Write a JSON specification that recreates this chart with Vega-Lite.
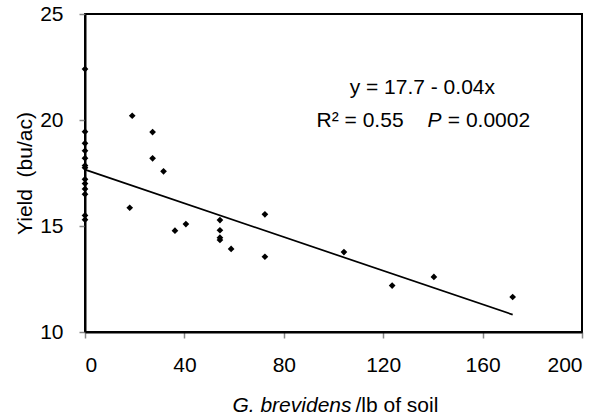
{
  "$schema": "https://vega.github.io/schema/vega-lite/v6.json",
  "width": 497,
  "height": 318,
  "autosize": {"type": "none"},
  "padding": {"left": 85, "top": 14, "right": 20, "bottom": 85},
  "background": "white",
  "config": {
    "font": "Liberation Sans",
    "view": {"stroke": "black", "strokeWidth": 2},
    "axis": {
      "grid": false,
      "domainColor": "black",
      "domainWidth": 2,
      "tickColor": "#888888",
      "tickSize": 6,
      "tickWidth": 1.5,
      "labelFont": "Liberation Sans",
      "labelFontSize": 21,
      "labelColor": "black",
      "labelPadding": 16,
      "titleFont": "Liberation Sans",
      "titleFontSize": 21,
      "titleFontWeight": "normal",
      "titleColor": "black"
    }
  },
  "datasets": {
    "points": [
      {"density": 0, "yield": 22.4},
      {"density": 0, "yield": 19.45},
      {"density": 0, "yield": 18.9},
      {"density": 0, "yield": 18.55},
      {"density": 0, "yield": 18.2},
      {"density": 0, "yield": 17.85},
      {"density": 0, "yield": 17.75},
      {"density": 0, "yield": 17.2},
      {"density": 0, "yield": 17.0},
      {"density": 0, "yield": 16.75},
      {"density": 0, "yield": 16.5},
      {"density": 0, "yield": 15.5},
      {"density": 0, "yield": 15.3},
      {"density": 19, "yield": 20.2},
      {"density": 18, "yield": 15.86},
      {"density": 27.2, "yield": 19.43},
      {"density": 27.2, "yield": 18.19},
      {"density": 31.6, "yield": 17.58},
      {"density": 36.2, "yield": 14.78},
      {"density": 40.6, "yield": 15.09},
      {"density": 54.3, "yield": 15.28},
      {"density": 54.3, "yield": 14.8},
      {"density": 54.3, "yield": 14.45},
      {"density": 54.3, "yield": 14.34},
      {"density": 58.8, "yield": 13.92},
      {"density": 72.4, "yield": 15.55},
      {"density": 72.4, "yield": 13.55},
      {"density": 104.2, "yield": 13.77},
      {"density": 123.6, "yield": 12.19},
      {"density": 140.4, "yield": 12.6},
      {"density": 172.1, "yield": 11.65}
    ],
    "fit": [
      {"density": 0, "yield": 17.66},
      {"density": 172.1, "yield": 10.82}
    ],
    "labels": [
      {"density": 106.5, "yield": 21.52, "text": "y = 17.7 - 0.04x"},
      {"density": 93.2, "yield": 19.97, "text": "R² = 0.55"},
      {"density": 146, "yield": 19.97, "text": "= 0.0002"}
    ],
    "italic": [
      {"density": 137.8, "yield": 19.97, "text": "P"}
    ]
  },
  "layer": [
    {
      "data": {"name": "points"},
      "mark": {"type": "point", "shape": "diamond", "filled": true, "color": "black", "size": 45, "opacity": 1},
      "encoding": {
        "x": {
          "field": "density", "type": "quantitative",
          "scale": {"domain": [0, 200], "nice": false, "zero": false},
          "axis": {
            "orient": "bottom",
            "values": [0, 40, 80, 120, 160, 200],
            "title": "G. brevidens",
            "titleFontStyle": "italic",
            "titleAlign": "right",
            "titleBaseline": "middle",
            "titleAnchor": null,
            "titleX": 266,
            "titleY": 73
          }
        },
        "y": {
          "field": "yield", "type": "quantitative",
          "scale": {"domain": [10, 25], "nice": false, "zero": false},
          "axis": {
            "values": [10, 15, 20, 25],
            "title": "Yield\u00a0 (bu/ac)",
            "titleAngle": 270,
            "titleAlign": "center",
            "titleBaseline": "middle",
            "titleX": -60,
            "titleY": 159
          }
        }
      }
    },
    {
      "data": {"name": "fit"},
      "mark": {"type": "line", "color": "black", "strokeWidth": 1.7},
      "encoding": {
        "x": {
          "field": "density", "type": "quantitative",
          "axis": {
            "orient": "top",
            "labels": false,
            "ticks": false,
            "domain": false,
            "title": "/lb of soil",
            "titleAlign": "left",
            "titleBaseline": "middle",
            "titleAnchor": null,
            "titleX": 270,
            "titleY": 391
          }
        },
        "y": {"field": "yield", "type": "quantitative", "axis": null}
      }
    },
    {
      "data": {"name": "labels"},
      "mark": {"type": "text", "align": "left", "baseline": "middle", "fontSize": 21, "font": "Liberation Sans", "color": "black"},
      "encoding": {
        "x": {"field": "density", "type": "quantitative", "axis": null},
        "y": {"field": "yield", "type": "quantitative", "axis": null},
        "text": {"field": "text"}
      }
    },
    {
      "data": {"name": "italic"},
      "mark": {"type": "text", "align": "left", "baseline": "middle", "fontSize": 21, "font": "Liberation Sans", "fontStyle": "italic", "color": "black"},
      "encoding": {
        "x": {"field": "density", "type": "quantitative", "axis": null},
        "y": {"field": "yield", "type": "quantitative", "axis": null},
        "text": {"field": "text"}
      }
    }
  ],
  "resolve": {"axis": {"x": "independent", "y": "independent"}}
}
